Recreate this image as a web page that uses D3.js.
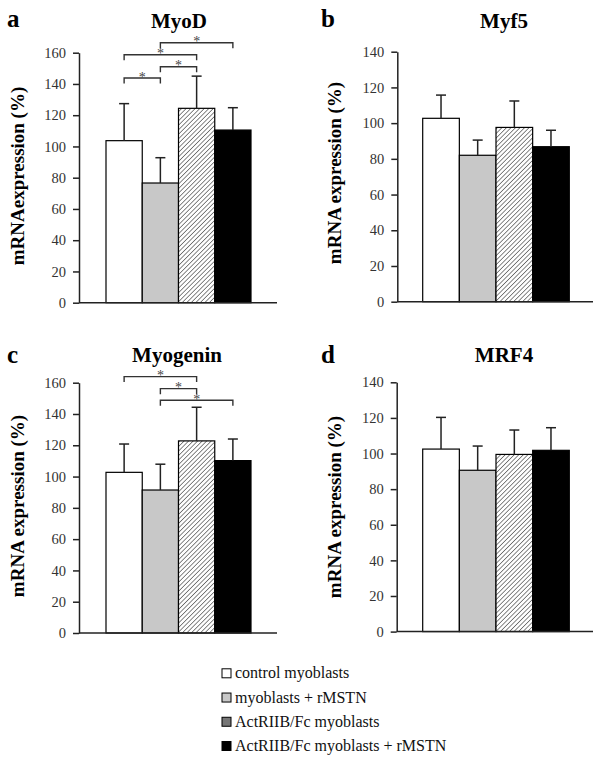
<!DOCTYPE html>
<html>
<head>
<meta charset="utf-8">
<script src="https://cdn.jsdelivr.net/npm/d3@7"></script>
<style>
  html, body { margin: 0; padding: 0; background: #fff; }
  svg { display: block; font-family: "Liberation Serif", "Times New Roman", serif; }
</style>
</head>
<body>
<svg id="chart" width="602" height="762"></svg>
<script>
const groups = ["control myoblasts", "myoblasts + rMSTN", "ActRIIB/Fc myoblasts", "ActRIIB/Fc myoblasts + rMSTN"];

const myodMean = [103.7, 76.6, 124.4, 110.5];
const myodSd = [23.7, 16.2, 20.6, 14.3];
const myf5Mean = [102.7, 82, 97.6, 86.8];
const myf5Sd = [13, 8.5, 14.8, 9.2];
const myogeninMean = [102.7, 91.4, 122.8, 110.2];
const myogeninSd = [18.1, 16.5, 21.5, 13.8];
const mrf4Mean = [102.5, 90.6, 99.5, 101.8];
const mrf4Sd = [17.8, 13.6, 13.7, 12.7];

// significance brackets: [from group, to group, level]
const myodSig = [[0, 1, 143.8], [0, 2, 158.7], [1, 2, 151], [1, 3, 166.4]];
const myogeninSig = [[0, 2, 163.9], [1, 2, 156.2], [1, 3, 148.8]];

const ticks160 = [0, 20, 40, 60, 80, 100, 120, 140, 160];
const ticks140 = [0, 20, 40, 60, 80, 100, 120, 140];

const fills = ["#ffffff", "#c8c8c8", "url(#hatch)", "#000000"];
const legendFills = ["#ffffff", "#c8c8c8", "#767676", "#000000"];

const svg = d3.select("#chart");

const pattern = svg.append("defs").append("pattern")
  .attr("id", "hatch")
  .attr("patternUnits", "userSpaceOnUse")
  .attr("width", 3.2).attr("height", 3.2)
  .attr("patternTransform", "rotate(45)");
pattern.append("rect").attr("width", 3.2).attr("height", 3.2).attr("fill", "#fff");
pattern.append("line").attr("x1", 0).attr("y1", 0).attr("x2", 0).attr("y2", 3.2)
  .attr("stroke", "#555").attr("stroke-width", 1.4);

const panels = [
  { letter: "a", title: "MyoD", label: "mRNAexpression (%)", mean: myodMean, sd: myodSd, sig: myodSig,
    ticks: ticks160, axisX: 79, bars: [106, 251], axisEnd: 277, top: 52.7, bottom: 302.7,
    titleX: 179, titleY: 27.5, letterX: 7, letterY: 27, labelX: 24, labelY: 176 },
  { letter: "b", title: "Myf5", label: "mRNA expression (%)", mean: myf5Mean, sd: myf5Sd, sig: [],
    ticks: ticks140, axisX: 397.3, bars: [422.7, 569.3], axisEnd: 593, top: 51.7, bottom: 301.7,
    titleX: 504, titleY: 27.5, letterX: 321, letterY: 27, labelX: 341, labelY: 173 },
  { letter: "c", title: "Myogenin", label: "mRNA expression (%)", mean: myogeninMean, sd: myogeninSd, sig: myogeninSig,
    ticks: ticks160, axisX: 79, bars: [106, 251], axisEnd: 277, top: 382.7, bottom: 633,
    titleX: 177, titleY: 362, letterX: 7, letterY: 363, labelX: 24, labelY: 506 },
  { letter: "d", title: "MRF4", label: "mRNA expression (%)", mean: mrf4Mean, sd: mrf4Sd, sig: [],
    ticks: ticks140, axisX: 396.7, bars: [422.7, 569.3], axisEnd: 593, top: 382.3, bottom: 631.6,
    titleX: 504, titleY: 362, letterX: 321, letterY: 363, labelX: 341, labelY: 507 }
];

panels.forEach((p) => {
  const g = svg.append("g");
  const maxTick = p.ticks[p.ticks.length - 1];
  const y = d3.scaleLinear().domain([0, maxTick]).range([p.bottom, p.top]);
  const x = d3.scaleBand().domain(groups).range(p.bars).padding(0);

  // bars
  g.selectAll(".bar").data(groups).enter().append("rect")
    .attr("x", (d) => x(d))
    .attr("y", (d, i) => y(p.mean[i]))
    .attr("width", x.bandwidth())
    .attr("height", (d, i) => y(0) - y(p.mean[i]))
    .attr("fill", (d, i) => fills[i])
    .attr("stroke", "#000").attr("stroke-width", 1.2);

  // error bars (upper only)
  const err = g.selectAll(".err").data(groups).enter().append("g")
    .attr("stroke", "#222").attr("stroke-width", 1.5);
  err.append("line")
    .attr("x1", (d) => x(d) + x.bandwidth() / 2)
    .attr("x2", (d) => x(d) + x.bandwidth() / 2)
    .attr("y1", (d, i) => y(p.mean[i]))
    .attr("y2", (d, i) => y(p.mean[i] + p.sd[i]));
  err.append("line")
    .attr("x1", (d) => x(d) + x.bandwidth() / 2 - 5)
    .attr("x2", (d) => x(d) + x.bandwidth() / 2 + 5)
    .attr("y1", (d, i) => y(p.mean[i] + p.sd[i]))
    .attr("y2", (d, i) => y(p.mean[i] + p.sd[i]));

  // y axis
  const axis = g.append("g")
    .attr("transform", `translate(${p.axisX},0)`)
    .call(d3.axisLeft(y).tickValues(p.ticks).tickSize(6).tickSizeOuter(0).tickPadding(7))
    .attr("font-family", "'Liberation Serif', serif");
  axis.select(".domain").attr("stroke", "#222").attr("stroke-width", 1.5);
  axis.selectAll(".tick line").attr("stroke", "#222").attr("stroke-width", 1.5);
  axis.selectAll(".tick text")
    .attr("fill", "#333")
    .style("font-size", "14.5px");

  // x baseline
  g.append("line")
    .attr("x1", p.axisX).attr("x2", p.axisEnd)
    .attr("y1", y(0)).attr("y2", y(0))
    .attr("stroke", "#222").attr("stroke-width", 1.5);

  // significance brackets
  p.sig.forEach(([a, b, level]) => {
    const xa = x(groups[a]) + x.bandwidth() / 2;
    const xb = x(groups[b]) + x.bandwidth() / 2;
    const yl = y(level);
    g.append("path")
      .attr("d", `M${xa},${yl + 5.5}V${yl}H${xb}V${yl + 5.5}`)
      .attr("fill", "none").attr("stroke", "#333").attr("stroke-width", 1.4);
    g.append("text")
      .attr("x", (xa + xb) / 2).attr("y", yl + 3.5)
      .attr("text-anchor", "middle")
      .attr("fill", "#444")
      .style("font-size", "14px")
      .text("*");
  });

  // titles
  g.append("text")
    .attr("x", p.titleX).attr("y", p.titleY)
    .attr("text-anchor", "middle")
    .style("font-weight", "bold").style("font-size", "21px")
    .text(p.title);
  g.append("text")
    .attr("x", p.letterX).attr("y", p.letterY)
    .style("font-weight", "bold").style("font-size", "25px")
    .text(p.letter);
  g.append("text")
    .attr("transform", `translate(${p.labelX},${p.labelY}) rotate(-90)`)
    .attr("text-anchor", "middle")
    .style("font-weight", "bold").style("font-size", "19px")
    .text(p.label);
});

// legend
const legendY = d3.scalePoint().domain(groups).range([673.3, 746]);
const legend = svg.append("g").selectAll("g").data(groups).enter().append("g")
  .attr("transform", (d) => `translate(222,${legendY(d)})`);
legend.append("rect")
  .attr("x", 0).attr("y", -4.5).attr("width", 9).attr("height", 9)
  .attr("fill", (d, i) => legendFills[i])
  .attr("stroke", "#000").attr("stroke-width", 1);
legend.append("text")
  .attr("x", 13).attr("y", 5)
  .attr("fill", "#111")
  .style("font-size", "16px")
  .text((d) => d);
</script>
</body>
</html>
